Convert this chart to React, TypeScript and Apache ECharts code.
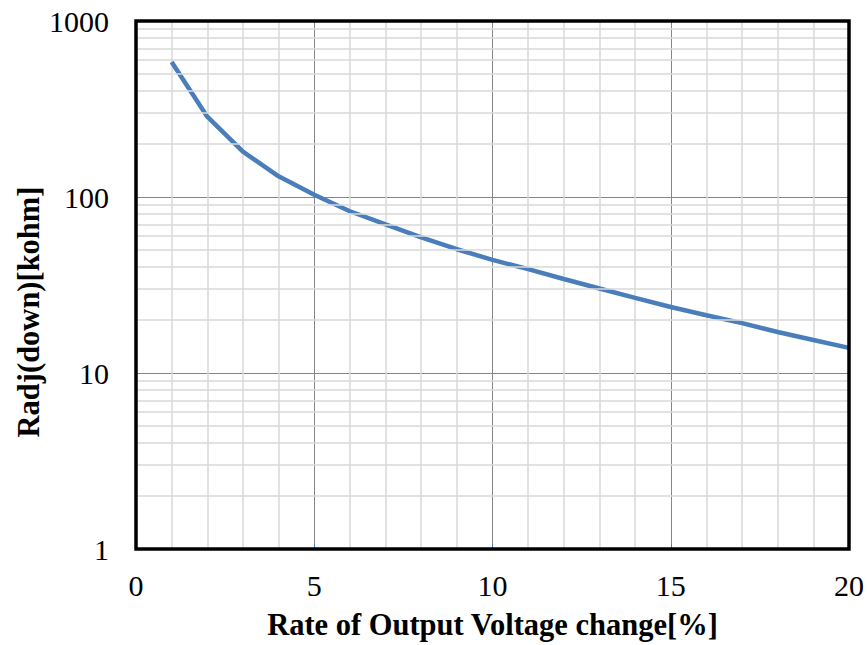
import React, { useEffect, useRef } from "react";
import * as echarts from "echarts";

const xValues = [1, 2, 3, 4, 5, 6, 7, 8, 9, 10, 11, 12, 13, 14, 15, 16, 17, 18, 19, 20];
const radjValues = [585, 286, 181, 131, 103, 83, 70, 59, 50.5, 43.9, 38.9, 34.2, 30.2, 26.7, 23.7, 21.3, 19.2, 17.1, 15.4, 13.9];
const yMinorLines = [2, 3, 4, 5, 6, 7, 8, 9, 20, 30, 40, 50, 60, 70, 80, 90, 200, 300, 400, 500, 600, 700, 800, 900];
const xAxisTitle = "Rate of Output Voltage change[%]";
const yAxisTitle = "Radj(down)[kohm]";

const FONT = "Times New Roman, Liberation Serif, DejaVu Serif, serif";

export default function App() {
  const ref = useRef<HTMLDivElement>(null);
  useEffect(() => {
    if (!ref.current) return;
    const chart = echarts.init(ref.current, undefined, { renderer: "svg" });
    const seriesData = xValues.map((x, i) => [x, radjValues[i]]);
    chart.setOption({
      animation: false,
      backgroundColor: "#fff",
      textStyle: { fontFamily: FONT },
      grid: {
        left: 136,
        top: 21,
        right: 17,
        bottom: 94,
        show: true,
        borderColor: "#000",
        borderWidth: 3.5,
        z: 10,
      },
      xAxis: {
        type: "value",
        min: 0,
        max: 20,
        interval: 5,
        name: xAxisTitle,
        nameLocation: "middle",
        nameGap: 60,
        nameTextStyle: { fontFamily: FONT, fontSize: 30.5, fontWeight: "bold", color: "#000" },
        axisLine: { show: false },
        axisTick: { show: true, inside: true, length: 5, lineStyle: { color: "#4a7ebb", width: 1 } },
        axisLabel: { fontFamily: FONT, fontSize: 30, color: "#000", margin: 21 },
        splitLine: { show: true, lineStyle: { color: "#868686", width: 1 } },
        minorTick: { show: false, splitNumber: 5 },
        minorSplitLine: { show: true, lineStyle: { color: "#d9d9d9", width: 1.5 } },
      },
      yAxis: {
        type: "log",
        logBase: 10,
        min: 1,
        max: 1000,
        axisLine: { show: false },
        axisTick: { show: false },
        axisLabel: {
          fontFamily: FONT,
          fontSize: 30,
          color: "#000",
          margin: 27,
          formatter: (v: number) => String(Math.round(v)),
        },
        splitLine: { show: true, lineStyle: { color: "#868686", width: 1 } },
      },
      graphic: [
        {
          type: "text",
          x: 29,
          y: 312,
          rotation: Math.PI / 2,
          style: {
            text: yAxisTitle,
            fontFamily: FONT,
            fontSize: 30.5,
            fontWeight: "bold",
            fill: "#000",
            align: "center",
            verticalAlign: "middle",
          },
        },
      ],
      series: [
        {
          type: "line",
          data: seriesData,
          showSymbol: false,
          silent: true,
          z: 1,
          lineStyle: { width: 0, opacity: 0 },
          markLine: {
            silent: true,
            symbol: ["none", "none"],
            label: { show: false },
            lineStyle: { color: "#d9d9d9", width: 1.5, type: "solid" },
            data: yMinorLines.map((v) => ({ yAxis: v })),
          },
        },
        {
          type: "line",
          data: seriesData,
          showSymbol: false,
          z: 3,
          lineStyle: { color: "#4a7ebb", width: 4.5 },
        },
      ],
    });
    return () => chart.dispose();
  }, []);
  return (
    <div
      ref={ref}
      style={{ position: "fixed", left: 0, top: 0, width: 867, height: 645 }}
    />
  );
}
